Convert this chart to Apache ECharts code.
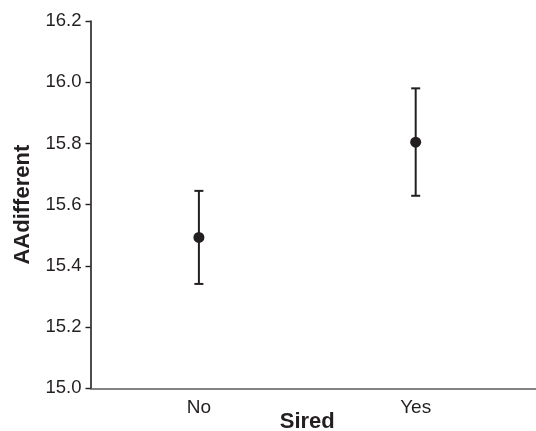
<!DOCTYPE html>
<html><head><meta charset="utf-8">
<script src="https://cdn.jsdelivr.net/npm/echarts@6/dist/echarts.min.js"></script>
<style>html,body{margin:0;padding:0;background:#fff;width:100%;height:100%;overflow:hidden}#c{width:536px;height:431px}</style>
</head><body><div id="c"></div>
<script>
var categories = ['No', 'Yes'];
var means = [15.493, 15.804];
var lower = [15.341, 15.629];
var upper = [15.645, 15.980];
var yTicks = ['15.0','15.2','15.4','15.6','15.8','16.0','16.2'];

var ink = '#231f20';
var chart = echarts.init(document.getElementById('c'), null, {renderer: 'canvas'});
var pts = categories.map(function (c, i) { return [i + 1, means[i]]; });
var bars = categories.map(function (c, i) { return [i + 1, lower[i], upper[i]]; });

chart.setOption({
  animation: false,
  backgroundColor: '#fff',
  grid: { left: 90.5, right: 0, top: 21, bottom: 42.7, containLabel: false, outerBoundsMode: 'none' },
  xAxis: {
    type: 'value', min: 0.5, max: 2.555, interval: 0.5,
    name: 'Sired', nameLocation: 'middle', nameGap: 23, nameMoveOverlap: false,
    nameTextStyle: { fontFamily: 'Liberation Sans', fontWeight: 'bold', fontSize: 22, color: ink, padding: [0, 12, 0, 0] },
    axisLine: { show: true, lineStyle: { color: '#5a5a5c', width: 1.6 } },
    axisTick: { show: false },
    splitLine: { show: false },
    axisLabel: {
      margin: 10, fontFamily: 'Liberation Sans', fontSize: 19, color: ink,
      showMinLabel: true, showMaxLabel: true,
      formatter: function (v) { var k = Math.round(v); return Math.abs(v - k) < 1e-6 && categories[k - 1] ? categories[k - 1] : ''; }
    }
  },
  yAxis: {
    type: 'value', min: 15, max: 16.2, interval: 0.2,
    name: 'AAdifferent', nameLocation: 'middle', nameGap: 57, nameMoveOverlap: false,
    nameTextStyle: { fontFamily: 'Liberation Sans', fontWeight: 'bold', fontSize: 22, color: ink },
    axisLine: { show: true, lineStyle: { color: ink, width: 1.6 } },
    axisTick: { show: true, length: 5, lineStyle: { color: ink, width: 1.4 } },
    splitLine: { show: false },
    axisLabel: {
      margin: 9, fontFamily: 'Liberation Sans', fontSize: 18.5, color: ink,
      formatter: function (v) { var i = Math.round((v - 15) / 0.2); return yTicks[i] !== undefined ? yTicks[i] : ''; }
    }
  },
  series: [
    {
      type: 'custom',
      data: bars,
      renderItem: function (params, api) {
        var x = api.value(0);
        var lo = api.coord([x, api.value(1)]);
        var hi = api.coord([x, api.value(2)]);
        var hw = 4.5;
        var st = { stroke: ink, lineWidth: 2 };
        return { type: 'group', children: [
          { type: 'line', shape: { x1: lo[0], y1: lo[1], x2: hi[0], y2: hi[1] }, style: st },
          { type: 'line', shape: { x1: lo[0] - hw, y1: lo[1], x2: lo[0] + hw, y2: lo[1] }, style: st },
          { type: 'line', shape: { x1: hi[0] - hw, y1: hi[1], x2: hi[0] + hw, y2: hi[1] }, style: st }
        ] };
      },
      z: 2
    },
    {
      type: 'scatter', data: pts, symbol: 'circle', symbolSize: 11,
      itemStyle: { color: ink, opacity: 1 }, z: 3
    }
  ]
});
</script></body></html>
